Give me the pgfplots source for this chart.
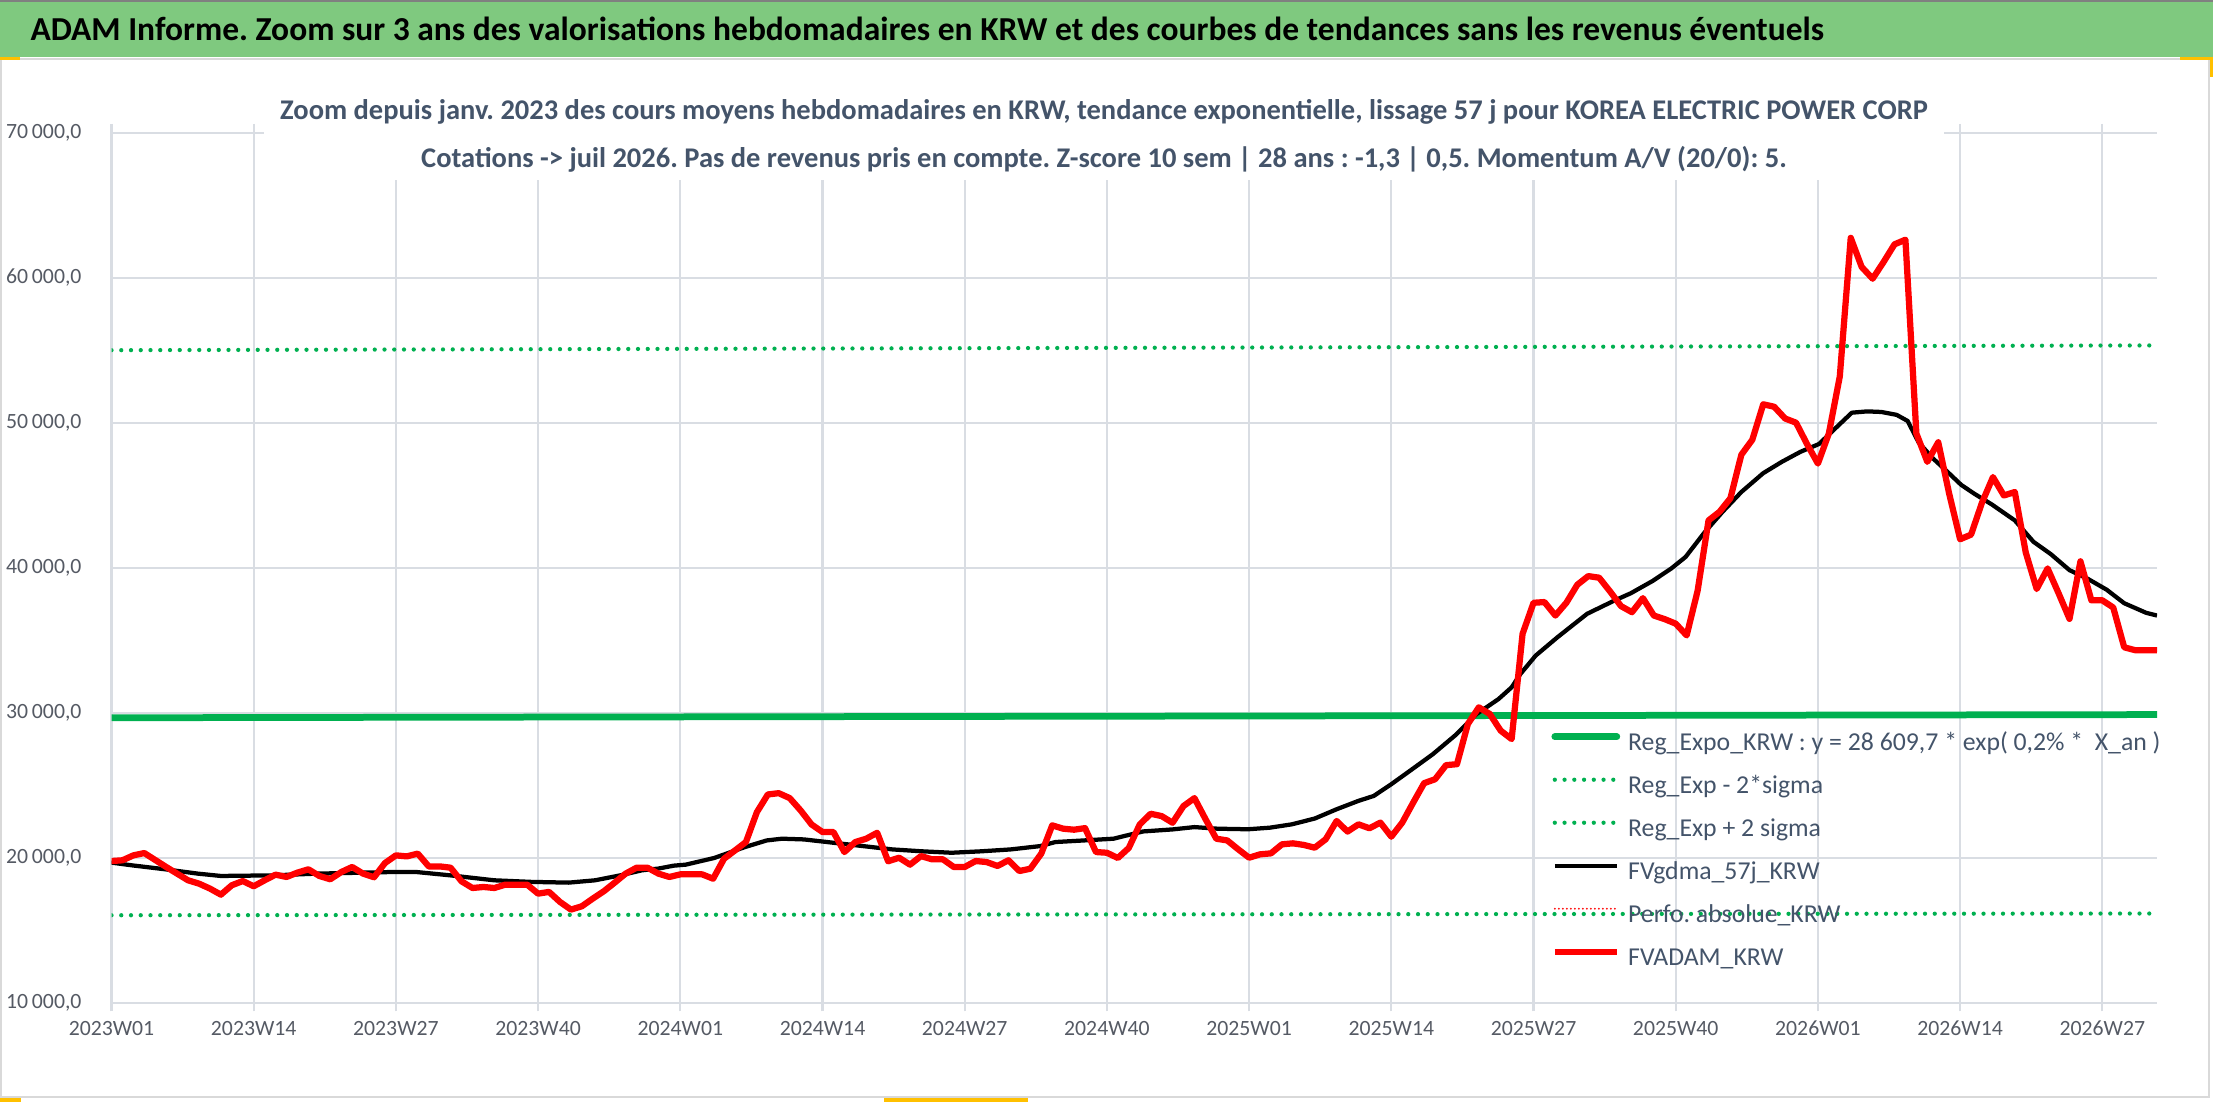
\documentclass[border=0pt]{standalone}
\usepackage{pgfplots}
\pgfplotsset{compat=1.18}
\usepackage{fontspec}
\setmainfont{Carlito}
\frenchspacing
\definecolor{banner}{RGB}{127,201,127}
\definecolor{titlec}{RGB}{68,84,106}
\definecolor{tickc}{RGB}{85,90,100}
\definecolor{gridc}{RGB}{217,221,227}
\definecolor{regg}{RGB}{0,176,80}
\definecolor{framec}{RGB}{217,217,217}
\definecolor{handle}{RGB}{255,192,0}
\begin{document}
\begin{tikzpicture}
\path[use as bounding box] (0,0) rectangle (886.4pt,440.8pt);
\fill[white] (0,0) rectangle (886.4pt,440.8pt);
\draw[framec, line width=0.8pt] (0.4pt,2pt) rectangle (883.6pt,417pt);
\fill[banner] (0,418pt) rectangle (885.2pt,440.8pt);
\draw[gray, line width=0.8pt] (0,440.4pt) -- (885.2pt,440.4pt);
\fill[handle] (0,416.6pt) rectangle (8pt,418pt);
\fill[handle] (872pt,416.6pt) rectangle (885.2pt,418pt);
\fill[handle] (883.8pt,410pt) rectangle (885.2pt,418pt);
\fill[handle] (0,0) rectangle (8.4pt,1.6pt);
\fill[handle] (353.6pt,0) rectangle (411.2pt,1.6pt);
\node[anchor=west, inner sep=0pt, font=\bfseries\fontsize{13.4}{15}\selectfont] at (12pt,429.2pt) {ADAM Informe. Zoom sur 3 ans des valorisations hebdomadaires en KRW et des courbes de tendances sans les revenus éventuels};
\begin{axis}[
 at={(44.6pt,39.72pt)}, anchor=south west,
 scale only axis, width=818.2pt, height=348pt,
 xmin=0, xmax=187, ymin=10000, ymax=70000,
 xtick={0,13,...,182},
 xticklabels={2023W01,2023W14,2023W27,2023W40,2024W01,2024W14,2024W27,2024W40,2025W01,2025W14,2025W27,2025W40,2026W01,2026W14,2026W27},
 ytick={10000,20000,...,70000},
 grid=major, grid style={draw=gridc, line width=0.9pt},
 axis line style={draw=none},
 tick align=outside, major tick length=3.5pt,
 xtick style={draw=gridc, line width=0.9pt},
 ytick style={draw=none},
 ticklabel style={font=\fontsize{8.7}{10}\selectfont, text=tickc},
 xticklabel style={anchor=center, inner sep=0pt, yshift=-6.8pt},
 yticklabel style={anchor=east, inner sep=0pt, xshift=-8.3pt},
 /pgf/number format/assume math mode=true,
 yticklabel style={/pgf/number format/.cd, fixed, fixed zerofill, precision=1, use comma, 1000 sep={\hspace{0.18em}}},
 scaled y ticks=false,
 legend cell align=left,
 legend style={at={(axis description cs:0.7037,0.3106)}, anchor=north west, draw=none, fill=none, inner sep=0pt, row sep=8.2pt, font=\fontsize{10.3}{12}\selectfont, text=titlec, nodes={inner sep=0pt, text height=7pt, text depth=2pt}},
 legend image code/.code={\draw[#1] (0pt,3pt) -- (24.8pt,3pt); \path (28pt,0pt);},
]
\addplot[regg, line width=2.7pt, line cap=round] coordinates {(0,29650) (187,29870)};
\addlegendentry{Reg\_Expo\_KRW : y = 28 609,7 * exp( 0,2\% *~ X\_an )}
\addplot[regg, line width=1.7pt, line cap=round, dash pattern=on 0pt off 3.9pt] coordinates {(0,16030) (187,16150)};
\addlegendentry{Reg\_Exp - 2*sigma}
\addplot[regg, line width=1.7pt, line cap=round, dash pattern=on 0pt off 3.9pt] coordinates {(0,55000) (187,55330)};
\addlegendentry{Reg\_Exp + 2 sigma}
\addplot[black, line width=1.7pt, line join=round] table {
x y
0 19660
1.9 19470
4.9 19200
7.9 18900
10 18740
14.7 18780
18.8 18900
25.5 19010
27.9 19010
31 18780
35 18440
38.4 18330
41.8 18280
44.2 18440
46.5 18780
48.5 19130
50 19250
51.4 19450
52.5 19520
55.1 19980
57.9 20730
59.9 21190
61.3 21310
63.3 21260
66 21030
68.7 20800
71.4 20570
74.1 20440
76.8 20340
79.5 20440
82.2 20570
84.9 20800
86.3 21080
88.9 21190
91.6 21310
94.3 21810
97 21950
99 22110
101.1 22000
103.9 21960
105.9 22070
107.9 22300
110 22700
112 23340
114 23920
115.4 24260
117 25070
118.7 25990
120.8 27140
122.8 28410
124.8 29910
126.8 30940
128 31750
128.8 32670
130.2 33940
132.2 35210
134.9 36820
137.3 37700
138.9 38240
140.9 39090
142.6 39950
143.9 40740
145.6 42400
147.3 43870
149 45220
151 46520
152.7 47300
154.4 47990
156.1 48530
157.8 49760
159.1 50690
160.5 50780
161.8 50740
163.2 50540
164.2 50120
165.2 48650
166.5 47550
167.9 46570
169.1 45710
170.3 45100
171.9 44360
174 43260
175.7 41790
177.3 40930
179 39830
180.7 39220
182.4 38480
184 37550
186 36890
187 36700
};
\addlegendentry{FVgdma\_57j\_KRW}
\addlegendimage{red, line width=0.8pt, line cap=round, dash pattern=on 0pt off 1.6pt}
\addlegendentry{Perfo. absolue\_KRW}
\addplot[red, line width=2.5pt, line join=round] table {
x y
0 19770
1 19820
2 20160
3 20320
4 19840
5 19360
6 18900
7 18440
8 18210
9 17870
10 17450
11 18100
12 18390
13 18030
14 18440
15 18830
16 18670
17 18970
18 19200
19 18740
20 18510
21 19010
22 19360
23 18900
24 18650
25 19630
26 20160
27 20090
28 20280
29 19400
30 19400
31 19310
32 18370
33 17910
34 17980
35 17910
36 18140
37 18140
38 18140
39 17520
40 17640
41 16950
42 16420
43 16650
44 17180
45 17680
46 18280
47 18900
48 19310
49 19310
50 18900
51 18670
52 18850
53 18850
54 18850
55 18550
56 19930
57 20500
58 21080
59 23140
60 24360
61 24450
62 24110
63 23260
64 22290
65 21770
66 21770
67 20390
68 21080
69 21310
70 21720
71 19750
72 20000
73 19520
74 20110
75 19890
76 19890
77 19360
78 19360
79 19770
80 19700
81 19430
82 19820
83 19080
84 19240
85 20280
86 22230
87 22000
88 21930
89 22040
90 20390
91 20340
92 19980
93 20670
94 22290
95 23030
96 22870
97 22410
98 23560
99 24110
100 22680
101 21310
102 21190
103 20580
104 20000
105 20230
106 20300
107 20920
108 20990
109 20880
110 20690
111 21270
112 22530
113 21800
114 22300
115 22030
116 22420
117 21450
118 22420
119 23800
120 25140
121 25410
122 26380
123 26450
124 29220
125 30370
126 29910
127 28760
128 28180
129 35440
130 37580
131 37630
132 36700
133 37580
134 38820
135 39420
136 39310
137 38360
138 37350
139 36930
140 37900
141 36700
142 36450
143 36140
144 35330
145 38400
146 43260
147 43850
148 44790
149 47790
150 48820
151 51270
152 51100
153 50290
154 50000
155 48530
156 47180
157 49260
158 53190
159 62750
160 60740
161 59930
162 61080
163 62300
164 62620
165 49260
166 47300
167 48650
168 45100
169 41960
170 42280
171 44490
172 46250
173 44980
174 45220
175 41050
176 38530
177 39950
178 38240
179 36470
180 40440
181 37750
182 37750
183 37250
184 34510
185 34310
186 34310
187 34300
};
\addlegendentry{FVADAM\_KRW}
\end{axis}
\fill[white] (105.6pt,368.8pt) rectangle (777.6pt,415.5pt);
\node[inner sep=0pt, font=\bfseries\fontsize{11.4}{13}\selectfont, text=titlec] at (441.6pt,396pt) {Zoom depuis janv. 2023 des cours moyens hebdomadaires en KRW, tendance exponentielle, lissage 57 j pour KOREA ELECTRIC POWER CORP};
\node[inner sep=0pt, font=\bfseries\fontsize{11.4}{13}\selectfont, text=titlec] at (441.6pt,377.2pt) {Cotations -> juil 2026. Pas de revenus pris en compte. Z-score 10 sem | 28 ans : -1,3 | 0,5. Momentum A/V (20/0): 5.};
\end{tikzpicture}
\end{document}
